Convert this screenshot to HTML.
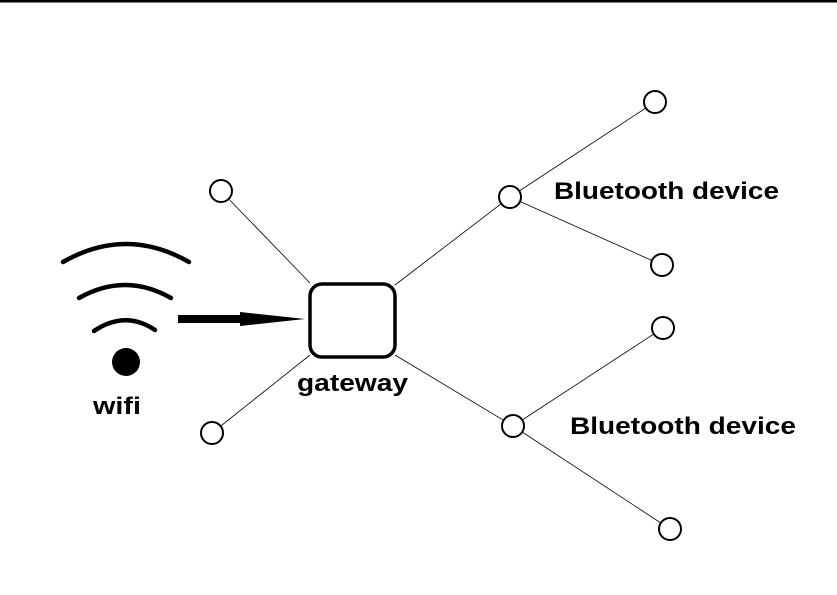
<!DOCTYPE html>
<html><head><style>body{margin:0;background:#fff}svg{display:block}text{font-family:"Liberation Sans",sans-serif;font-weight:bold;fill:#000}</style></head>
<body>
<svg width="837" height="595" viewBox="0 0 837 595">
<rect x="0" y="0" width="837" height="2.5" fill="#000"/>
<g stroke="#000" stroke-width="0.8" fill="none">
<line x1="221" y1="191" x2="310" y2="283"/>
<line x1="212" y1="433" x2="310" y2="355"/>
<line x1="395" y1="285" x2="510" y2="197"/>
<line x1="510" y1="197" x2="655" y2="102"/>
<line x1="510" y1="197" x2="662" y2="265"/>
<line x1="395" y1="355" x2="513" y2="426"/>
<line x1="513" y1="426" x2="663" y2="328"/>
<line x1="513" y1="426" x2="670" y2="529"/>
</g>
<g stroke="#000" stroke-width="2" fill="#fff">
<circle cx="221" cy="191" r="11"/>
<circle cx="212" cy="433" r="11"/>
<circle cx="510" cy="197" r="11"/>
<circle cx="655" cy="102" r="11"/>
<circle cx="662" cy="265" r="11"/>
<circle cx="663" cy="328" r="11"/>
<circle cx="513" cy="426" r="11"/>
<circle cx="670" cy="529" r="11"/>
</g>
<rect x="310" y="284" width="85" height="73" rx="12" fill="#fff" stroke="#000" stroke-width="3.5"/>
<rect x="178" y="315" width="64" height="8" fill="#000"/>
<polygon points="240,312 305,319 240,326" fill="#000"/>
<g stroke="#000" stroke-width="4.5" fill="none" stroke-linecap="round">
<path d="M63,262 Q126,226 189,262"/>
<path d="M79,298 Q125,272 171,298"/>
<path d="M94,331 Q125,310 155,330"/>
</g>
<circle cx="126" cy="362" r="14" fill="#000"/>
<text x="93" y="414" font-size="24" textLength="48" lengthAdjust="spacingAndGlyphs">wifi</text>
<text x="297" y="391" font-size="24" textLength="111" lengthAdjust="spacingAndGlyphs">gateway</text>
<text x="554" y="199" font-size="24" textLength="225" lengthAdjust="spacingAndGlyphs">Bluetooth device</text>
<text x="570" y="434" font-size="24" textLength="226" lengthAdjust="spacingAndGlyphs">Bluetooth device</text>
</svg>
</body></html>
